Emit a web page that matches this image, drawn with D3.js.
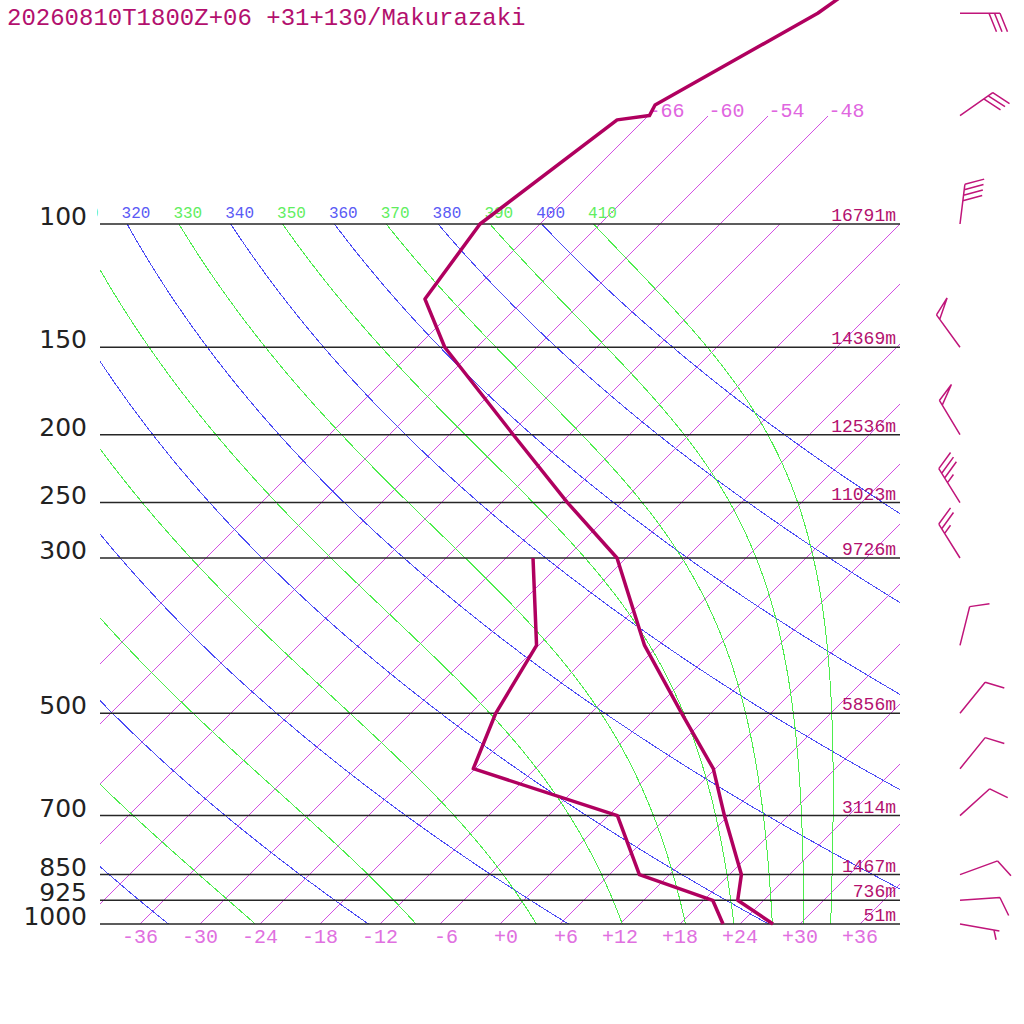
<!DOCTYPE html>
<html>
<head>
<meta charset="utf-8">
<script src="https://cdn.jsdelivr.net/npm/d3@7"></script>
<style>
	body { margin: 0; background: #fff; }
	text { font-family: "Liberation Mono", monospace; }
	.iso { fill: none; stroke: #d24fe2; stroke-width: 1; shape-rendering: crispEdges; }
	.dry { fill: none; stroke: #4b4bf5; stroke-width: 1; shape-rendering: crispEdges; }
	.moist { fill: none; stroke: #4ded4d; stroke-width: 1; shape-rendering: crispEdges; }
</style>
</head>
<body>
<svg id="chart" width="1024" height="1024"></svg>
<script>
var title = "20260810T1800Z+06 +31+130/Makurazaki";

// temperature profile (hPa, degC)
var tempLevels = [1000, 925, 850, 700, 600, 500, 400, 300, 250, 200, 150, 128, 100, 71, 70, 67.6, 50, 30];
var temps = [27.3, 21.4, 19.2, 11.6, 5.8, -2.9, -13.4, -24.9, -35.4, -47.6, -63.2, -70.0, -72.0, -68.7, -65.9, -66.4, -59.3, -53.0];

// dewpoint profile
var dewLevels = [1000, 925, 850, 700, 600, 500, 400, 300];
var dewpoints = [22.3, 18.9, 9.0, 0.9, -18.2, -21.5, -24.2, -33.3];

// wind (direction from, knots)
var windLevels = [1000, 925, 850, 700, 600, 500, 400, 300, 250, 200, 150, 100, 70, 50];
var windDirs = [100, 86, 70, 48, 39, 39, 14, 328, 328, 329, 324, 7, 55, 90];
var windSpeeds = [5, 10, 10, 10, 10, 10, 10, 25, 35, 50, 50, 40, 30, 30];

// standard levels and geopotential heights
var stdLevels = [1000, 925, 850, 700, 500, 300, 250, 200, 150, 100];
var heights = [51, 736, 1467, 3114, 5856, 9726, 11023, 12536, 14369, 16791];

// background lines
var isotherms = [-66, -60, -54, -48, -42, -36, -30, -24, -18, -12, -6, 0, 6, 12, 18, 24, 30, 36];
var isothermTopLabels = [-66, -60, -54, -48];
var tempTicks = [-36, -30, -24, -18, -12, -6, 0, 6, 12, 18, 24, 30, 36];
var dryThetas = [240, 260, 280, 300, 320, 340, 360, 380, 400];
var moistThetas = [250, 270, 290, 310, 330, 350, 370, 390, 410];

var plotLeft = 100, plotRight = 900, plotTop = 224, plotBottom = 924;
var svg = d3.select('#chart');

var y = d3.scaleLog().domain([1000, 100]).range([plotBottom, plotTop]);
var xT = d3.scaleLinear().domain([-40, 40]).range([plotLeft, plotRight]);

// skewed position
function sx(t, p){
	return xT(t) + (y(1000) - y(p));
}

var Rd = 287.04, Cp = 1005.7, Lv = 2.501e6, eps = 0.622, kappa = Rd / Cp;

function satMix(tk, p){
	var tc = tk - 273.15;
	var es = 6.112 * Math.exp(17.67 * tc / (tc + 243.5));
	return eps * es / (p - es);
}
function moistRate(tk, p){
	var rs = satMix(tk, p);
	return (Rd * tk + Lv * rs) / (Cp + Lv * Lv * rs * eps / (Rd * tk * tk)) / p;
}
function moistAdiabat(theta){
	var p = 100, t = theta * Math.pow(p / 1000, kappa), dp = 2;
	var pts = [[p, t - 273.15]];
	while (p < 1000) {
		var k1 = moistRate(t, p),
			k2 = moistRate(t + k1 * dp / 2, p + dp / 2),
			k3 = moistRate(t + k2 * dp / 2, p + dp / 2),
			k4 = moistRate(t + k3 * dp, p + dp);
		t += dp * (k1 + 2 * k2 + 2 * k3 + k4) / 6;
		p += dp;
		pts.push([p, t - 273.15]);
	}
	return pts;
}
function dryAdiabat(theta){
	return d3.range(100, 1001, 5).map(function(p){
		return [p, theta * Math.pow(p / 1000, kappa) - 273.15];
	});
}

var defs = svg.append('defs');
defs.append('clipPath').attr('id', 'plotClip')
	.append('rect').attr('x', plotLeft).attr('y', plotTop).attr('width', plotRight - plotLeft).attr('height', plotBottom - plotTop);
defs.append('clipPath').attr('id', 'upperClip')
	.append('rect').attr('x', plotLeft).attr('y', 0).attr('width', plotRight - plotLeft).attr('height', plotBottom);
defs.append('clipPath').attr('id', 'labelClip')
	.append('rect').attr('x', 97).attr('y', 190).attr('width', 803).attr('height', 40);

var line = d3.line()
	.x(function(d){ return sx(d[1], d[0]); })
	.y(function(d){ return y(d[0]); });

// isotherms
svg.append('g')
	.attr('clip-path', 'url(#upperClip)')
	.selectAll('.iso')
	.data(isotherms)
	.enter().append('path')
	.attr('class', 'iso')
	.attr('d', function(t){
		var pTop = isothermTopLabels.indexOf(t) >= 0 ? 70 : 100;
		return line([[1000, t], [pTop, t]]);
	});

var plot = svg.append('g').attr('clip-path', 'url(#plotClip)');

plot.selectAll('.dry')
	.data(dryThetas)
	.enter().append('path')
	.attr('class', 'dry')
	.attr('d', function(th){ return line(dryAdiabat(th)); });

plot.selectAll('.moist')
	.data(moistThetas)
	.enter().append('path')
	.attr('class', 'moist')
	.attr('d', function(th){ return line(moistAdiabat(th)); });

// theta labels at the top
var thetaLabels = svg.append('g').attr('clip-path', 'url(#labelClip)');
dryThetas.concat(moistThetas).forEach(function(th){
	var xt = xT(th * Math.pow(0.1, kappa) - 273.15) + (y(1000) - y(100));
	thetaLabels.append('text')
		.attr('x', xt - 5.5)
		.attr('y', 218)
		.attr('font-size', 16)
		.attr('fill', dryThetas.indexOf(th) >= 0 ? '#5a5af5' : '#60ee60')
		.text(th);
});

// isotherm labels above 100 hPa
svg.selectAll('.isoLabel')
	.data(isothermTopLabels)
	.enter().append('text')
	.attr('class', 'isoLabel')
	.attr('x', function(t){ return sx(t, 70); })
	.attr('y', y(70) + 1)
	.attr('font-size', 20)
	.attr('fill', '#e066e0')
	.text(function(t){ return t; });

// standard pressure lines
svg.selectAll('.plev')
	.data(stdLevels)
	.enter().append('line')
	.attr('class', 'plev')
	.attr('x1', plotLeft).attr('x2', plotRight)
	.attr('y1', function(p){ return y(p); })
	.attr('y2', function(p){ return y(p); })
	.attr('stroke', '#262626')
	.attr('stroke-width', 1.5);

svg.selectAll('.plabel')
	.data(stdLevels)
	.enter().append('text')
	.attr('class', 'plabel')
	.attr('x', 87)
	.attr('y', function(p){ return y(p) + 1; })
	.attr('text-anchor', 'end')
	.attr('font-size', 25)
	.style('font-family', '"DejaVu Sans", sans-serif')
	.attr('fill', '#222')
	.text(function(p){ return p; });

svg.selectAll('.hlabel')
	.data(stdLevels)
	.enter().append('text')
	.attr('class', 'hlabel')
	.attr('x', 896)
	.attr('y', function(p){ return y(p) - 3; })
	.attr('text-anchor', 'end')
	.attr('font-size', 18)
	.attr('fill', '#b3106e')
	.text(function(p, i){ return heights[i] + 'm'; });

// temperature axis
svg.selectAll('.tlabel')
	.data(tempTicks)
	.enter().append('text')
	.attr('class', 'tlabel')
	.attr('x', function(t){ return xT(t) + 18; })
	.attr('y', 943)
	.attr('text-anchor', 'end')
	.attr('font-size', 20)
	.attr('fill', '#e070e0')
	.text(function(t){ return (t < 0 ? '-' : '+') + Math.abs(t); });

svg.append('text')
	.attr('x', 7)
	.attr('y', 25)
	.attr('font-size', 24)
	.attr('fill', '#b3106e')
	.text(title);

// profiles
var tempData = tempLevels.map(function(p, i){ return [p, temps[i]]; });
var dewData = dewLevels.map(function(p, i){ return [p, dewpoints[i]]; });

[tempData, dewData].forEach(function(d){
	svg.append('path')
		.attr('d', line(d))
		.attr('fill', 'none')
		.attr('stroke', '#b0005f')
		.attr('stroke-width', 3.5)
		.attr('stroke-linejoin', 'round');
});

// wind barbs
function barb(x0, y0, dir, spd){
	var a = dir * Math.PI / 180,
		ux = Math.sin(a), uy = -Math.cos(a),
		L = 40,
		ex = x0 + ux * L, ey = y0 + uy * L,
		r = 68 * Math.PI / 180,
		fx = ux * Math.cos(r) - uy * Math.sin(r),
		fy = ux * Math.sin(r) + uy * Math.cos(r),
		step = 5.5, pos = 0;
	var path = d3.path();
	path.moveTo(x0, y0);
	path.lineTo(ex, ey);
	var s = spd;
	while (s >= 50) {
		var bx = ex - ux * pos, by = ey - uy * pos;
		path.moveTo(bx, by);
		path.lineTo(bx + fx * 20, by + fy * 20);
		path.lineTo(ex - ux * (pos + step), ey - uy * (pos + step));
		pos += step + 2;
		s -= 50;
	}
	while (s >= 10) {
		var cx = ex - ux * pos, cy = ey - uy * pos;
		path.moveTo(cx, cy);
		path.lineTo(cx + fx * 20, cy + fy * 20);
		pos += step;
		s -= 10;
	}
	if (s >= 5) {
		if (pos === 0) pos = step;
		var hx = ex - ux * pos, hy = ey - uy * pos;
		path.moveTo(hx, hy);
		path.lineTo(hx + fx * 10, hy + fy * 10);
	}
	return path.toString();
}

svg.selectAll('.barb')
	.data(windLevels)
	.enter().append('path')
	.attr('class', 'barb')
	.attr('d', function(p, i){ return barb(960, y(p), windDirs[i], windSpeeds[i]); })
	.attr('fill', 'none')
	.attr('stroke', '#c0157a')
	.attr('stroke-width', 1.5);
</script>
</body>
</html>
